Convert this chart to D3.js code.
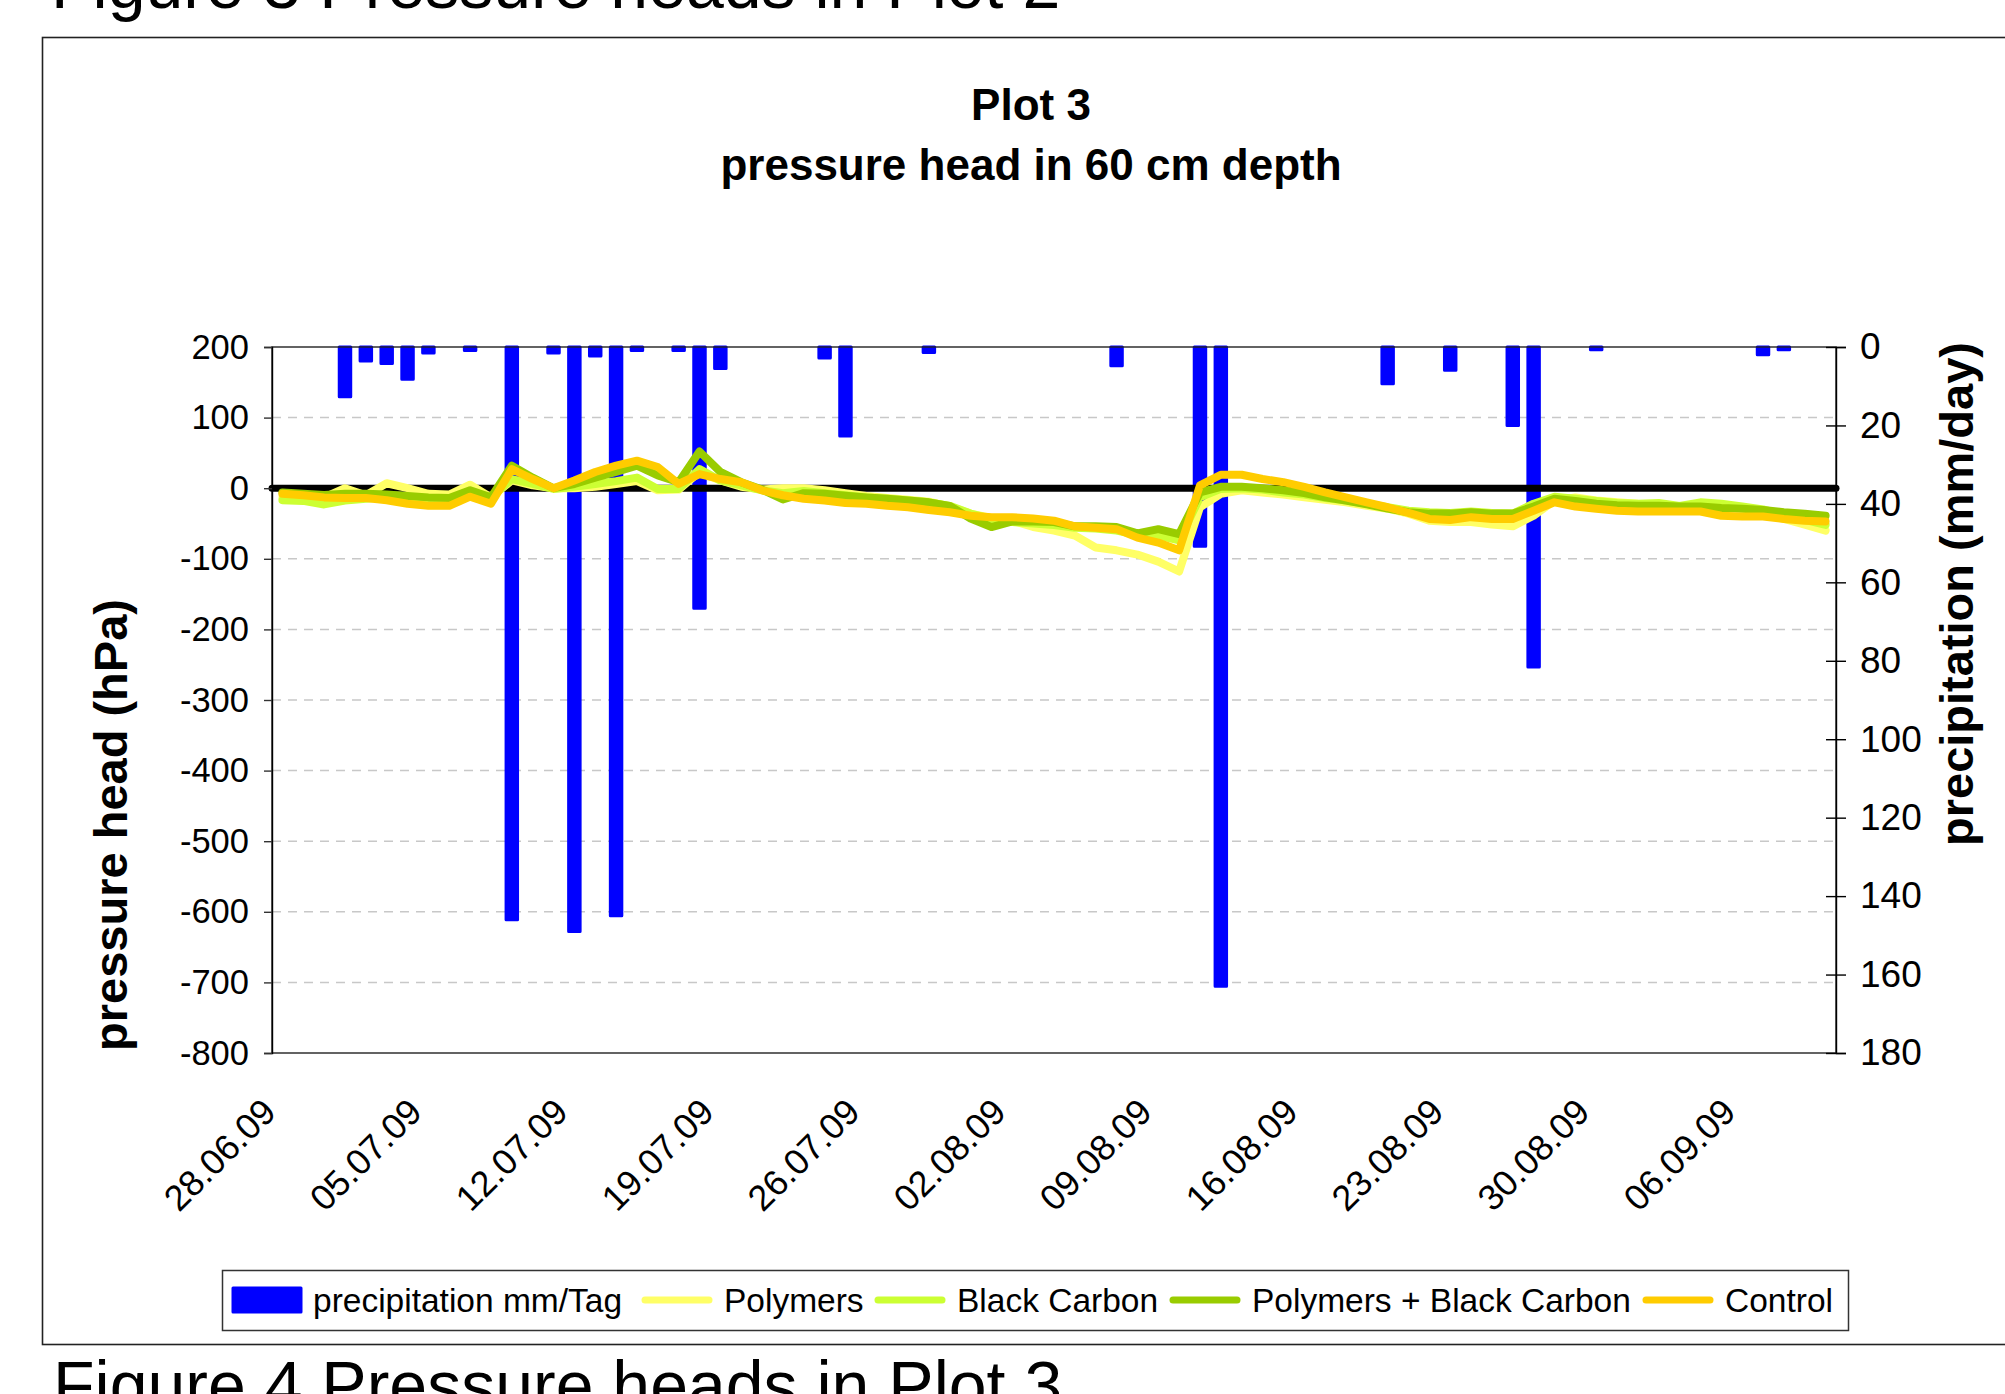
<!DOCTYPE html>
<html>
<head>
<meta charset="utf-8">
<script src="https://cdn.jsdelivr.net/npm/d3@7"></script>
<style>
  html, body { margin: 0; padding: 0; background: #fff; }
  svg { display: block; font-family: "Liberation Sans", Arial, sans-serif; }
</style>
</head>
<body>
<svg id="chart" width="2005" height="1394"></svg>
<script>
// Daily series, 28.06.2009 – 11.09.2009 (75 days)
const dayCount = 75;

const tickLabels = ["28.06.09", "05.07.09", "12.07.09", "19.07.09", "26.07.09", "02.08.09",
                    "09.08.09", "16.08.09", "23.08.09", "30.08.09", "06.09.09"];

// precipitation (mm/day), one value per day
const precipitation = [
  0, 0, 0, 12.7, 3.6, 4.2, 8.2, 1.5, 0, 0.9,
  0, 146, 0, 1.5, 149, 2.3, 145, 0.9, 0, 0.9,
  66.6, 5.5, 0, 0, 0, 0, 2.8, 22.7, 0, 0,
  0, 1.4, 0, 0, 0, 0, 0, 0, 0, 0,
  4.8, 0, 0, 0, 50.8, 163, 0, 0, 0, 0,
  0, 0, 0, 9.4, 0, 0, 5.9, 0, 0, 20,
  81.6, 0, 0, 0.7, 0, 0, 0, 0, 0, 0,
  0, 2.0, 0.7, 0, 0
];

// pressure head (hPa) in 60 cm depth
const polymers = [
  -13, -13, -13, 0, -10, 7, 0, -8, -9, 5,
  -13, 11, 4, 0, 0, 2, 6, 10, -3, -2,
  23, 11, 2, -2, 0, 0, -3, -7, -11, -14,
  -16.5, -19, -26, -36, -42, -46, -55, -60, -67, -84,
  -88, -94, -104, -118, -27, -8, -3, -6, -9, -13,
  -16.5, -20, -25, -29, -36, -46, -48, -48, -51.5, -54,
  -39, -17.5, -13, -17.5, -20, -22, -23, -26, -23, -26,
  -29, -36, -43.5, -51.5, -60
];
const blackCarbon = [
  -17, -18, -23, -17.5, -15, -13, -14, -15, -15, -6,
  -13, 13, 6, -1, 2, 6, 10, 15, -1, -1,
  27, 11, 4, -3, -7, -4, -7, -10, -13, -15,
  -17.5, -20, -25, -36, -43.5, -48, -50, -52, -56, -57,
  -60, -66, -67, -74, -13, -1, 0, -2, -6, -9,
  -14, -17.5, -22, -27, -32, -34, -35, -33, -35, -36,
  -22, -12, -15, -18, -21, -22, -21, -25, -20, -22,
  -26, -30, -38, -45, -52
];
const polymersBlackCarbon = [
  -6, -8, -9.5, -8, -8, -9, -11, -13, -14, -3,
  -13, 32, 15, 0, 6, 15, 23, 32, 18, 8.5,
  52, 23, 8.5, -2, -16, -7, -8, -10.5, -13, -15,
  -17.5, -20, -25, -43, -55, -47, -47, -48, -54, -54,
  -55, -64, -58, -65, -6, 2, 2, 0, -3, -7,
  -13, -17.5, -23, -29, -34, -36, -36, -34, -36, -36,
  -26, -15, -18, -22, -24, -25, -25, -26, -26, -28,
  -29, -31, -34, -36, -39
];
const control = [
  -8, -10, -13, -14, -14, -17, -22, -25, -25, -12,
  -22, 27, 13, 0, 11, 23, 32, 39, 30, 6,
  20, 13, 8.5, -3, -10, -15, -17.5, -21, -22, -25,
  -27, -31, -34, -39, -41, -41, -43, -46, -54, -56,
  -58, -70, -77, -88, 4, 19, 19, 13, 8.5, 2,
  -6, -13, -20, -27, -35, -43.5, -45, -41, -43.5, -43.5,
  -32, -20, -26, -29, -32, -33, -33, -33, -33, -39,
  -40, -40, -43.5, -46, -47
];

const seriesNames = ["Polymers", "Black Carbon", "Polymers + Black Carbon", "Control"];
const seriesColors = ["#FFFF66", "#CCFF33", "#99CC00", "#FFCC00"];
const seriesValues = [polymers, blackCarbon, polymersBlackCarbon, control];
const barName = "precipitation mm/Tag";
const barColor = "#0000FF";

const headTicks = d3.range(-800, 201, 100);
const precipTicks = d3.range(0, 181, 20);

const svg = d3.select("#chart");
const W = 2005;
const plot = { left: 272, right: 1836, top: 347, bottom: 1053 };

// Page captions around the chart frame
svg.append("text").attr("x", 51).attr("y", 8)
  .attr("font-size", 68).attr("fill", "#000").text("Figure 3 Pressure heads in Plot 2");
svg.append("text").attr("x", 53).attr("y", 1409)
  .attr("font-size", 68).attr("fill", "#000").text("Figure 4 Pressure heads in Plot 3");

// Chart frame
svg.append("rect").attr("x", 42.5).attr("y", 37.5).attr("width", W + 20).attr("height", 1307)
  .attr("fill", "#fff").attr("stroke", "#222").attr("stroke-width", 1.6);

// Title
const title = svg.append("text").attr("text-anchor", "middle").attr("font-weight", "bold")
  .attr("font-size", 44);
title.append("tspan").attr("x", 1031).attr("y", 120).text("Plot 3");
title.append("tspan").attr("x", 1031).attr("y", 180).text("pressure head in 60 cm depth");

// Scales
const x = d3.scaleBand().domain(d3.range(dayCount)).range([plot.left, plot.right]);
const xc = i => x(i) + x.bandwidth() / 2;
const y = d3.scaleLinear().domain([-800, 200]).range([plot.bottom, plot.top]);
const yP = d3.scaleLinear().domain([0, 180]).range([plot.top, plot.bottom]);

// Gridlines
svg.append("g").selectAll("line").data(headTicks.filter(v => v > -800 && v < 200)).join("line")
  .attr("x1", plot.left).attr("x2", plot.right)
  .attr("y1", d => y(d)).attr("y2", d => y(d))
  .attr("stroke", "#c8c8c8").attr("stroke-width", 1.5).attr("stroke-dasharray", "9,7");

// Precipitation bars hanging from the top
const barW = x.bandwidth() * 0.55;
svg.append("g").selectAll("rect").data(precipitation.map((v, i) => ({ v, i })).filter(d => d.v > 0)).join("rect")
  .attr("x", d => xc(d.i) - barW / 2)
  .attr("y", yP(0))
  .attr("width", barW)
  .attr("height", d => yP(d.v) - yP(0))
  .attr("fill", barColor).attr("stroke", barColor)
  .attr("stroke-width", 3).attr("stroke-linejoin", "round");

// Plot frame
svg.append("rect").attr("x", plot.left).attr("y", plot.top)
  .attr("width", plot.right - plot.left).attr("height", plot.bottom - plot.top)
  .attr("fill", "none").attr("stroke", "#222").attr("stroke-width", 1.4);

// Zero line
svg.append("line").attr("x1", plot.left).attr("x2", plot.right)
  .attr("y1", y(0)).attr("y2", y(0))
  .attr("stroke", "#000").attr("stroke-width", 7).attr("stroke-linecap", "round");

// Pressure head lines
const line = d3.line().x((d, i) => xc(i)).y(d => y(d));
svg.append("g").selectAll("path").data(seriesValues).join("path")
  .attr("d", d => line(d))
  .attr("fill", "none")
  .attr("stroke", (d, i) => seriesColors[i])
  .attr("stroke-width", 8)
  .attr("stroke-linejoin", "round").attr("stroke-linecap", "round");

// Left axis
const leftAxis = svg.append("g").attr("transform", `translate(${plot.left},0)`)
  .call(d3.axisLeft(y).tickValues(headTicks).tickSize(8).tickPadding(15).tickFormat(d => String(d)));
leftAxis.select(".domain").attr("stroke", "#000").attr("stroke-width", 1.4);
leftAxis.selectAll(".tick line").attr("stroke", "#333").attr("stroke-width", 1.4);
leftAxis.selectAll("text").attr("font-size", 34.5).attr("fill", "#000")
  .attr("font-family", "Liberation Sans, Arial, sans-serif");

// Right axis (precipitation, downward)
const rightAxis = svg.append("g").attr("transform", `translate(${plot.right},0)`)
  .call(d3.axisRight(yP).tickValues(precipTicks).tickSize(10).tickPadding(14).tickFormat(d => String(d)));
rightAxis.select(".domain").attr("stroke", "#000").attr("stroke-width", 1.4);
rightAxis.selectAll(".tick line").attr("x1", -10).attr("stroke", "#000").attr("stroke-width", 1.4);
rightAxis.selectAll("text").attr("font-size", 37).attr("fill", "#000")
  .attr("font-family", "Liberation Sans, Arial, sans-serif");

// Date labels every 7 days
svg.append("g").selectAll("text").data(tickLabels).join("text")
  .attr("transform", (d, k) => `translate(${x(k * 7) + 6},${1114}) rotate(-45)`)
  .attr("text-anchor", "end")
  .attr("font-size", 36).attr("fill", "#000")
  .text(d => d);

// Axis titles
svg.append("text")
  .attr("transform", "translate(127,825) rotate(-90)")
  .attr("text-anchor", "middle").attr("font-weight", "bold").attr("font-size", 47)
  .text("pressure head (hPa)");
svg.append("text")
  .attr("transform", "translate(1973,594) rotate(-90)")
  .attr("text-anchor", "middle").attr("font-weight", "bold").attr("font-size", 47)
  .text("precipitation (mm/day)");

// Legend
const lg = svg.append("g");
lg.append("rect").attr("x", 222.5).attr("y", 1270.5).attr("width", 1626).attr("height", 60)
  .attr("fill", "#fff").attr("stroke", "#333").attr("stroke-width", 1.5);
const legendY = 1300;
lg.append("rect").attr("x", 233).attr("y", legendY - 12).attr("width", 68).attr("height", 24)
  .attr("fill", barColor).attr("stroke", barColor).attr("stroke-width", 3).attr("stroke-linejoin", "round");
lg.append("text").attr("x", 313).attr("y", legendY + 12).attr("font-size", 33.5).text(barName);
const legendLineX = [642, 875, 1170, 1643];
seriesNames.forEach((name, i) => {
  lg.append("line").attr("x1", legendLineX[i] + 3).attr("x2", legendLineX[i] + 67)
    .attr("y1", legendY).attr("y2", legendY)
    .attr("stroke", seriesColors[i]).attr("stroke-width", 7).attr("stroke-linecap", "round");
  lg.append("text").attr("x", legendLineX[i] + 82).attr("y", legendY + 12).attr("font-size", 33.5).text(name);
});
</script>
</body>
</html>
